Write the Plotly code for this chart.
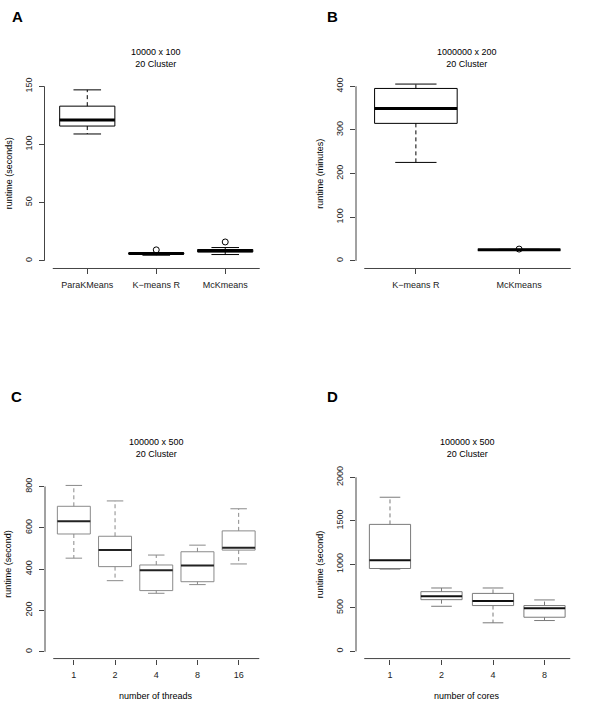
import plotly.graph_objects as go

W, H = 600, 707
FONT = "Liberation Sans, Arial, Helvetica, sans-serif"

# ---------------- data ----------------
# Panel A: 10000 x 100, 20 clusters (seconds)
a_cats = ["ParaKMeans", "K\u2212means R", "McKmeans"]
a_low = [109.0, 4.8, 5.4]
a_q1 = [115.8, 5.8, 7.6]
a_med = [121.0, 6.3, 8.6]
a_q3 = [132.9, 6.8, 9.7]
a_high = [146.9, 7.0, 11.4]
a_out_cat = [2, 3]
a_out_val = [9.4, 16.2]
a_yticks = [0, 50, 100, 150]

# Panel B: 1000000 x 200, 20 clusters (minutes)
b_cats = ["K\u2212means R", "McKmeans"]
b_low = [225.5, 24.5]
b_q1 = [315.0, 25.0]
b_med = [349.0, 25.5]
b_q3 = [395.0, 26.0]
b_high = [405.0, 26.5]
b_out_cat = [2]
b_out_val = [27.0]
b_yticks = [0, 100, 200, 300, 400]

# Panel C: 100000 x 500, threads (seconds)
c_cats = ["1", "2", "4", "8", "16"]
c_low = [453, 344, 283, 325, 425]
c_q1 = [570, 412, 296, 339, 492]
c_med = [632, 492, 394, 418, 503]
c_q3 = [704, 559, 420, 484, 585]
c_high = [805, 730, 468, 516, 692]
c_yticks = [0, 200, 400, 600, 800]

# Panel D: 100000 x 500, cores (seconds)
d_cats = ["1", "2", "4", "8"]
d_low = [945, 518, 328, 354]
d_q1 = [952, 594, 526, 392]
d_med = [1048, 632, 579, 495]
d_q3 = [1459, 686, 666, 526]
d_high = [1771, 728, 728, 591]
d_yticks = [0, 500, 1000, 1500, 2000]

fig = go.Figure()


def px_x(p):
    return p / W


def px_y(p):
    return 1 - p / H


def add_panel(idx, cats, low, q1, med, q3, high, out_cat, out_val,
              box_col, med_col, med_w, whisk_col):
    xa = "x" if idx == 1 else f"x{idx}"
    ya = "y" if idx == 1 else f"y{idx}"
    hw = 0.4   # half box width (boxwex 0.8)
    sw = 0.2   # half staple width
    for i in range(len(cats)):
        x = i + 1
        fig.add_trace(go.Scatter(
            x=[x - hw, x + hw, x + hw, x - hw, x - hw],
            y=[q1[i], q1[i], q3[i], q3[i], q1[i]],
            mode="lines", fill="toself", fillcolor="white",
            line=dict(color=box_col, width=1),
            xaxis=xa, yaxis=ya, hoverinfo="skip", showlegend=False))
    wx, wy, sx, sy, mx, my = [], [], [], [], [], []
    for i in range(len(cats)):
        x = i + 1
        wx += [x, x, None, x, x, None]
        wy += [q3[i], high[i], None, q1[i], low[i], None]
        sx += [x - sw, x + sw, None, x - sw, x + sw, None]
        sy += [high[i], high[i], None, low[i], low[i], None]
        mx += [x - hw, x + hw, None]
        my += [med[i], med[i], None]
    fig.add_trace(go.Scatter(x=wx, y=wy, mode="lines",
                             line=dict(color=whisk_col, width=1, dash="4px,3px"),
                             xaxis=xa, yaxis=ya, hoverinfo="skip", showlegend=False))
    fig.add_trace(go.Scatter(x=sx, y=sy, mode="lines",
                             line=dict(color=box_col, width=1),
                             xaxis=xa, yaxis=ya, hoverinfo="skip", showlegend=False))
    fig.add_trace(go.Scatter(x=mx, y=my, mode="lines",
                             line=dict(color=med_col, width=med_w),
                             xaxis=xa, yaxis=ya, hoverinfo="skip", showlegend=False))
    if out_cat:
        fig.add_trace(go.Scatter(x=out_cat, y=out_val, mode="markers",
                                 marker=dict(symbol="circle-open", size=6,
                                             color=box_col, line=dict(width=1)),
                                 xaxis=xa, yaxis=ya, hoverinfo="skip",
                                 showlegend=False))


add_panel(1, a_cats, a_low, a_q1, a_med, a_q3, a_high, a_out_cat, a_out_val,
          "black", "black", 3, "black")
add_panel(2, b_cats, b_low, b_q1, b_med, b_q3, b_high, b_out_cat, b_out_val,
          "black", "black", 3, "black")
add_panel(3, c_cats, c_low, c_q1, c_med, c_q3, c_high, [], [],
          "#8a8a8a", "#222222", 2, "#8a8a8a")
add_panel(4, d_cats, d_low, d_q1, d_med, d_q3, d_high, [], [],
          "#7a7a7a", "#111111", 2, "#7a7a7a")

AX_COL = "#444444"
TICKFONT = dict(family=FONT, size=9, color="#222222")

# panel geometry (pixels): x-domain, y-domain(top,bottom), x-range, y-range
panels = [
    (1, a_cats, a_yticks, (44.5, 268.0), (75.7, 266.0), (0.38, 3.62), (-6.6, 156.0)),
    (2, b_cats, b_yticks, (356.0, 579.0), (75.7, 266.0), (0.42, 2.58), (-17.5, 416.0)),
    (3, c_cats, c_yticks, (45.0, 267.5), (469.0, 658.3), (0.30, 5.70), (-33.0, 878.0)),
    (4, d_cats, d_yticks, (356.0, 578.5), (469.0, 658.3), (0.34, 4.66), (-83.0, 2080.0)),
]

layout = {}
shapes = []
for idx, cats, yt, dx, dy, rx, ry in panels:
    xk = "xaxis" if idx == 1 else f"xaxis{idx}"
    yk = "yaxis" if idx == 1 else f"yaxis{idx}"
    xa = "x" if idx == 1 else f"x{idx}"
    ya = "y" if idx == 1 else f"y{idx}"
    n = len(cats)
    layout[xk] = dict(domain=[px_x(dx[0]), px_x(dx[1])], range=list(rx),
                      anchor=ya, tickmode="array",
                      tickvals=list(range(1, n + 1)), ticktext=cats,
                      ticks="outside", ticklen=5, tickcolor=AX_COL, tickwidth=1,
                      showline=False, showgrid=False, zeroline=False,
                      tickfont=TICKFONT, ticklabelstandoff=3, fixedrange=True)
    layout[yk] = dict(domain=[px_y(dy[1]), px_y(dy[0])], range=list(ry),
                      anchor=xa, tickmode="array", tickvals=yt,
                      ticktext=[str(v) for v in yt], tickangle=-90,
                      ticks="outside", ticklen=5, tickcolor=AX_COL, tickwidth=1,
                      showline=False, showgrid=False, zeroline=False,
                      tickfont=TICKFONT, ticklabelstandoff=3, fixedrange=True)
    shapes.append(dict(type="line", xref=f"{xa} domain", yref=ya,
                       x0=0, x1=0, y0=yt[0], y1=yt[-1],
                       line=dict(color=AX_COL, width=1)))
    shapes.append(dict(type="line", xref=xa, yref=f"{ya} domain",
                       x0=0.5, x1=n + 0.5, y0=0, y1=0,
                       line=dict(color=AX_COL, width=1)))

annotations = []


def ann(text, x, y, size=9, bold=False, angle=0):
    annotations.append(dict(
        text=f"<b>{text}</b>" if bold else text,
        x=px_x(x), y=px_y(y), xref="paper", yref="paper",
        xanchor="center", yanchor="middle", showarrow=False, textangle=angle,
        font=dict(family=FONT, size=size, color="black")))


# panel letters
ann("A", 17, 13, size=15, bold=True)
ann("B", 332.7, 13, size=15, bold=True)
ann("C", 16, 395, size=15, bold=True)
ann("D", 332.7, 395, size=15, bold=True)
# panel titles
ann("10000 x 100<br>20 Cluster", 156, 54.5)
ann("1000000 x 200<br>20 Cluster", 467.3, 54.5)
ann("100000 x 500<br>20 Cluster", 156, 446.3)
ann("100000 x 500<br>20 Cluster", 467.3, 446.3)
# y-axis titles
ann("runtime (seconds)", 8.5, 170.8, angle=-90)
ann("runtime (minutes)", 320, 170.8, angle=-90)
ann("runtime (second)", 8.5, 563.5, angle=-90)
ann("runtime (second)", 320, 563.5, angle=-90)
# x-axis titles
ann("number of threads", 156, 696)
ann("number of cores", 467.3, 696)

fig.update_layout(
    width=W, height=H,
    margin=dict(l=0, r=0, t=0, b=0),
    paper_bgcolor="white", plot_bgcolor="white",
    showlegend=False,
    shapes=shapes, annotations=annotations,
    font=dict(family=FONT, size=9, color="#222222"),
    **layout,
)

# remove the browser's default 8px body margin so the 600x707 figure fills the window
fig.write_html("out.html",
               config={"displayModeBar": False, "staticPlot": True},
               post_script="document.body.style.margin='0px';document.body.style.overflow='hidden';")
